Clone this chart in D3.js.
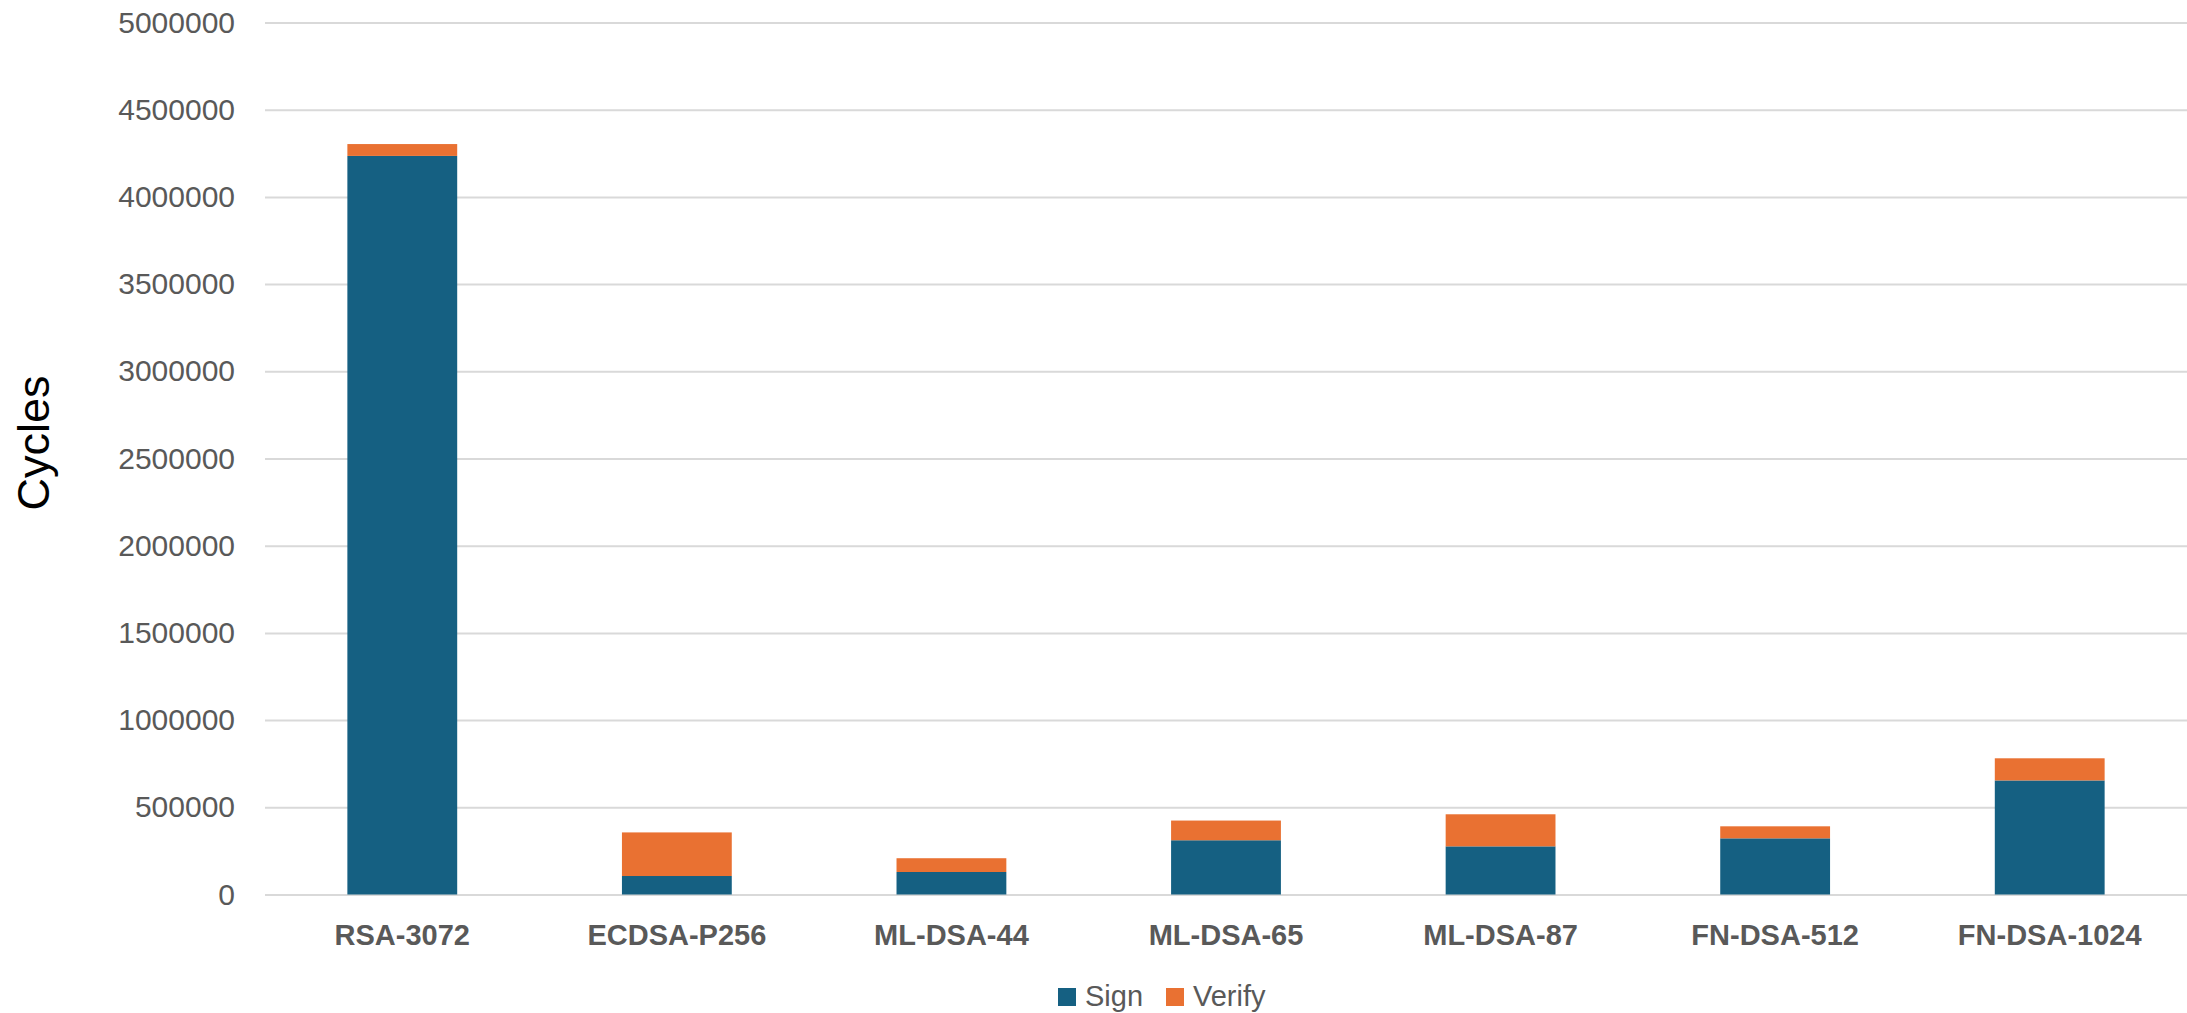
<!DOCTYPE html>
<html>
<head>
<meta charset="utf-8">
<script src="https://cdn.jsdelivr.net/npm/d3@7"></script>
<style>
  html, body { margin: 0; padding: 0; background: #fff; }
  svg { display: block; font-family: "Liberation Sans", Arial, sans-serif; }
</style>
</head>
<body>
<svg id="chart" width="2187" height="1013"></svg>
<script>
// Signature schemes and their cycle counts
const categories = ["RSA-3072", "ECDSA-P256", "ML-DSA-44", "ML-DSA-65", "ML-DSA-87", "FN-DSA-512", "FN-DSA-1024"];
const signCycles = [4235000, 106000, 129000, 311000, 276000, 322000, 654000];
const verifyCycles = [68000, 250000, 79000, 113000, 184000, 69000, 127000];
const yTicks = [0, 500000, 1000000, 1500000, 2000000, 2500000, 3000000, 3500000, 4000000, 4500000, 5000000];
const seriesNames = ["Sign", "Verify"];
const seriesColors = ["#156082", "#E97132"];

const svg = d3.select("#chart");
const plot = { left: 265, right: 2187, top: 22.5, bottom: 894.5 };

const x = d3.scaleBand()
  .domain(categories)
  .range([plot.left, plot.right])
  .paddingInner(0.6)
  .paddingOuter(0.3);

const y = d3.scaleLinear()
  .domain([0, 5000000])
  .range([plot.bottom, plot.top]);

// Horizontal gridlines with tick labels
const yAxis = d3.axisLeft(y)
  .tickValues(yTicks)
  .tickFormat(d3.format("d"))
  .tickSize(-(plot.right - plot.left))
  .tickPadding(30);

const gy = svg.append("g")
  .attr("transform", `translate(${plot.left},0)`)
  .call(yAxis);
gy.select(".domain").remove();
gy.selectAll(".tick line").attr("stroke", "#D9D9D9").attr("stroke-width", 2);
gy.selectAll(".tick text")
  .attr("fill", "#595959")
  .attr("font-size", 30)
  .attr("font-family", "'Liberation Sans', Arial, sans-serif");

// Stacked bars
const rows = categories.map((c, i) => ({ category: c, Sign: signCycles[i], Verify: verifyCycles[i] }));
const stacked = d3.stack().keys(seriesNames)(rows);

svg.append("g").selectAll("g")
  .data(stacked)
  .join("g")
  .attr("fill", (d, i) => seriesColors[i])
  .selectAll("rect")
  .data(d => d)
  .join("rect")
  .attr("x", d => x(d.data.category))
  .attr("width", x.bandwidth())
  .attr("y", d => y(d[1]))
  .attr("height", d => y(d[0]) - y(d[1]));

// Category labels
const xAxis = d3.axisBottom(x).tickSize(0).tickPadding(30);
const gx = svg.append("g")
  .attr("transform", `translate(0,${plot.bottom})`)
  .call(xAxis);
gx.select(".domain").remove();
gx.selectAll(".tick text")
  .attr("fill", "#595959")
  .attr("font-size", 29)
  .attr("font-weight", "bold")
  .attr("font-family", "'Liberation Sans', Arial, sans-serif");

// Y axis title
svg.append("text")
  .attr("transform", "translate(49,443) rotate(-90)")
  .attr("text-anchor", "middle")
  .attr("font-size", 45)
  .attr("fill", "#000")
  .text("Cycles");

// Legend
const legendItems = [
  { name: seriesNames[0], color: seriesColors[0], x: 1058 },
  { name: seriesNames[1], color: seriesColors[1], x: 1166 }
];
const legend = svg.append("g");
legendItems.forEach(item => {
  legend.append("rect")
    .attr("x", item.x).attr("y", 988)
    .attr("width", 18).attr("height", 18)
    .attr("fill", item.color);
  legend.append("text")
    .attr("x", item.x + 27).attr("y", 1006)
    .attr("font-size", 29)
    .attr("fill", "#595959")
    .text(item.name);
});
</script>
</body>
</html>
